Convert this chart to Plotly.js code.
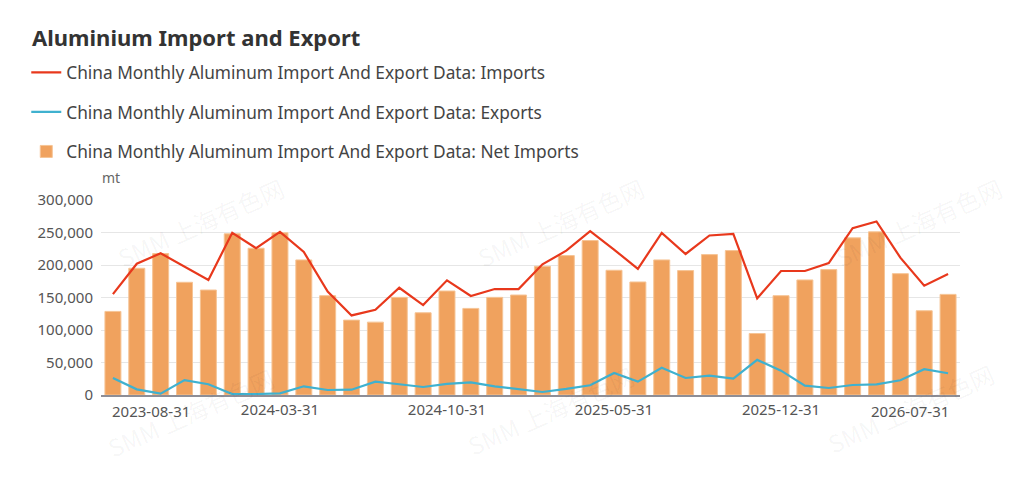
<!DOCTYPE html>
<html>
<head>
<meta charset="utf-8">
<script src="https://cdn.plot.ly/plotly-3.0.1.min.js"></script>
<style>
  html, body { margin: 0; padding: 0; background: #fff; }
  #myDiv { width: 1024px; height: 478px; }
</style>
</head>
<body>
<div id="myDiv"></div>
<script>
var months = [
  '2023-08-31','2023-09-30','2023-10-31','2023-11-30','2023-12-31',
  '2024-01-31','2024-02-29','2024-03-31','2024-04-30','2024-05-31','2024-06-30',
  '2024-07-31','2024-08-31','2024-09-30','2024-10-31','2024-11-30','2024-12-31',
  '2025-01-31','2025-02-28','2025-03-31','2025-04-30','2025-05-31','2025-06-30',
  '2025-07-31','2025-08-31','2025-09-30','2025-10-31','2025-11-30','2025-12-31',
  '2026-01-31','2026-02-28','2026-03-31','2026-04-30','2026-05-31','2026-06-30',
  '2026-07-31'
];

var imports = [
  155300, 202000, 218000, 197000, 177000, 249500, 225800, 251000, 220000,
  159000, 122400, 131000, 165000, 138400, 176400, 152300, 163000, 163000,
  201000, 222000, 252000, 223800, 194000, 249500, 217000, 245400, 248000,
  148700, 190800, 190800, 203000, 256700, 267000, 211400, 168200, 186200
];

var exportsT = [
  26200, 8700, 2000, 23000, 16500, 1500, 1500, 2500, 13400,
  7700, 8200, 20600, 16500, 12300, 17000, 19500, 13400, 9500,
  4600, 9300, 15000, 34000, 20600, 42000, 26200, 29800, 25200,
  54000, 37500, 14400, 10800, 15400, 16500, 22600, 39600, 33400
];

var netImports = [
  128600, 195000, 217600, 173400, 161500, 248000, 225800, 249500, 207800,
  152800, 115200, 112100, 150200, 126500, 160000, 133200, 150200, 153800,
  198000, 214500, 237600, 191900, 173900, 207800, 191400, 216000, 222200,
  94600, 152800, 177000, 192900, 241800, 251000, 186700, 129600, 154800
];

var midTicks = ['2024-03-31', '2024-10-31', '2025-05-31', '2025-12-31'];
var seriesNames = [
  'China Monthly Aluminum Import And Export Data: Imports',
  'China Monthly Aluminum Import And Export Data: Exports',
  'China Monthly Aluminum Import And Export Data: Net Imports'
];

var FONT = 'Noto Sans, Open Sans, sans-serif';

var data = [
  {x: months, y: imports, type: 'scatter', mode: 'lines', name: seriesNames[0],
   legendgroup: 'a', line: {color: '#e8381c', width: 2.2}},
  {x: months, y: exportsT, type: 'scatter', mode: 'lines', name: seriesNames[1],
   legendgroup: 'b', line: {color: '#3fb1cf', width: 2.2}},
  {x: months, y: netImports, type: 'bar', name: seriesNames[2],
   legendgroup: 'c', marker: {color: '#f0a25e', line: {color: '#f6c495', width: 1}}}
];

// watermark
var marks = [[200, 222], [560, 222], [918, 222], [190, 412], [550, 410], [910, 408]];
var annotations = marks.map(function (p) {
  return {
    xref: 'paper', yref: 'paper',
    x: (p[0] - 101) / 859, y: (395 - p[1]) / 195,
    xanchor: 'center', yanchor: 'middle',
    text: 'SMM 上海有色网', showarrow: false, textangle: -24,
    font: {family: 'Noto Sans CJK SC', size: 24, color: 'rgba(0,0,0,0.045)'}
  };
});

annotations.push(
  {xref: 'paper', yref: 'paper', x: -0.001, y: 1.113, xanchor: 'left', yanchor: 'middle',
   text: 'mt', showarrow: false, font: {family: FONT, size: 14, color: '#666'}},
  {xref: 'x', yref: 'paper', x: months[0], y: 0, yshift: -16, xshift: -3,
   xanchor: 'left', yanchor: 'middle', text: months[0], showarrow: false,
   font: {family: FONT, size: 15, color: '#555'}},
  {xref: 'x', yref: 'paper', x: months[months.length - 1], y: 0, yshift: -16, xshift: 3,
   xanchor: 'right', yanchor: 'middle', text: months[months.length - 1], showarrow: false,
   font: {family: FONT, size: 15, color: '#555'}}
);

var layout = {
  width: 1024, height: 478,
  margin: {l: 101, r: 64, t: 200, b: 83},
  paper_bgcolor: '#fff', plot_bgcolor: '#fff',
  font: {family: FONT, color: '#444'},
  title: {
    text: '<b>Aluminium Import and Export</b>',
    xref: 'container', yref: 'container', x: 32 / 1024, xanchor: 'left',
    y: 1 - 38 / 478, yanchor: 'middle',
    font: {family: FONT, size: 22, color: '#333'}
  },
  showlegend: true,
  legend: {
    x: -0.087, xanchor: 'left', y: 1.745, yanchor: 'top',
    traceorder: 'grouped', tracegroupgap: 14,
    font: {family: FONT, size: 17.3, color: '#444'},
    itemwidth: 30, bgcolor: 'rgba(0,0,0,0)'
  },
  bargap: 0.33,
  xaxis: {
    type: 'category', tickvals: midTicks, ticktext: midTicks,
    range: [-0.5, months.length - 0.5],
    showgrid: false, zeroline: false, showline: true, linecolor: '#8e8e96', linewidth: 1.5,
    ticks: '', tickfont: {family: FONT, size: 15, color: '#555'}, fixedrange: true
  },
  yaxis: {
    range: [0, 300000], dtick: 50000, tickformat: ',',
    showgrid: true, gridcolor: '#e6e6e6', gridwidth: 1, zeroline: false,
    showline: false, ticks: '', ticklabelstandoff: 7,
    tickfont: {family: FONT, size: 15, color: '#555'}, fixedrange: true
  },
  annotations: annotations
};

Plotly.newPlot('myDiv', data, layout, {displayModeBar: false, staticPlot: true});
</script>
</body>
</html>
